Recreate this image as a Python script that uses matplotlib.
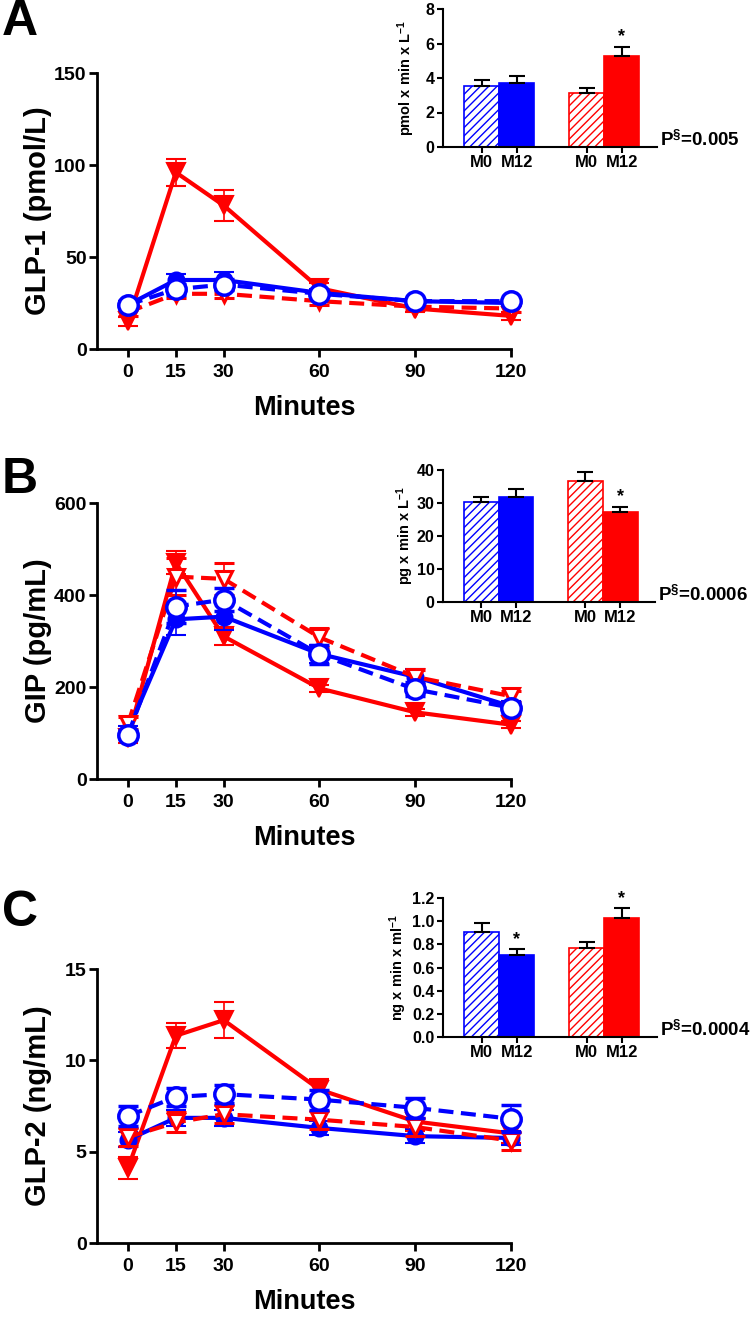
import matplotlib
matplotlib.use("Agg")
import matplotlib.pyplot as plt
import numpy as np

# ---------------- data ----------------
times = [0, 15, 30, 60, 90, 120]

# Panel A: GLP-1 (pmol/L)
a_red_m12 = [15, 96, 78, 33, 22, 18]
a_red_m12_err = [2.5, 7.5, 8.5, 3, 2, 2]
a_red_m0 = [20, 30, 30, 26, 23, 22]
a_red_m0_err = [2, 2.5, 2.5, 2, 2, 2]
a_blue_m12 = [24, 37.5, 37.5, 30.5, 26, 25]
a_blue_m12_err = [2, 3.5, 4.5, 2, 1.5, 1.5]
a_blue_m0 = [24, 32.5, 35, 30, 26, 26]
a_blue_m0_err = [2, 3, 3, 2, 1.5, 1.5]

# Panel B: GIP (pg/mL)
b_red_m12 = [90, 470, 310, 197, 145, 118]
b_red_m12_err = [12, 25, 18, 8, 8, 8]
b_red_m0 = [120, 440, 435, 308, 222, 180]
b_red_m0_err = [15, 40, 35, 20, 15, 12]
b_blue_m12 = [105, 347, 353, 272, 222, 158]
b_blue_m12_err = [10, 35, 30, 20, 18, 12]
b_blue_m0 = [96, 375, 390, 271, 195, 155]
b_blue_m0_err = [10, 35, 25, 20, 15, 12]

# Panel C: GLP-2 (ng/mL)
c_red_m12 = [4.1, 11.35, 12.2, 8.4, 6.65, 6.0]
c_red_m12_err = [0.6, 0.7, 1.0, 0.6, 0.5, 0.5]
c_red_m0 = [5.8, 6.6, 7.05, 6.75, 6.35, 5.6]
c_red_m0_err = [0.5, 0.55, 0.5, 0.5, 0.5, 0.5]
c_blue_m12 = [5.65, 6.85, 6.85, 6.3, 5.85, 5.75]
c_blue_m12_err = [0.4, 0.45, 0.45, 0.4, 0.4, 0.4]
c_blue_m0 = [6.95, 8.0, 8.15, 7.85, 7.4, 6.8]
c_blue_m0_err = [0.55, 0.5, 0.5, 0.55, 0.55, 0.75]

# Insets: AUC
auc_labels = ["M0", "M12", "M0", "M12"]
a_auc = [3.55, 3.73, 3.15, 5.28]
a_auc_err = [0.33, 0.40, 0.29, 0.52]
a_auc_star = [False, False, False, True]
b_auc = [30.4, 31.9, 36.6, 27.4]
b_auc_err = [1.5, 2.4, 2.7, 1.5]
b_auc_star = [False, False, False, True]
c_auc = [0.909, 0.708, 0.766, 1.025]
c_auc_err = [0.078, 0.049, 0.057, 0.086]
c_auc_star = [False, True, False, True]

a_pval = "0.005"
b_pval = "0.0006"
c_pval = "0.0004"

# ---------------- style ----------------
BLUE = "#0000FF"
RED = "#FF0000"
W, H = 756, 1317

plt.rcParams["font.family"] = ["Liberation Sans", "DejaVu Sans"]
plt.rcParams["font.weight"] = "bold"
plt.rcParams["axes.labelweight"] = "bold"
plt.rcParams["mathtext.fontset"] = "custom"
plt.rcParams["mathtext.rm"] = "Liberation Sans:bold"
plt.rcParams["mathtext.bf"] = "Liberation Sans:bold"
plt.rcParams["mathtext.default"] = "bf"
plt.rcParams["hatch.linewidth"] = 1.0

fig = plt.figure(figsize=(W / 100, H / 100), dpi=100)


def fr(x0, x1, ytop, ybot):
    return [x0 / W, 1 - ybot / H, (x1 - x0) / W, (ybot - ytop) / H]


def main_panel(rect, ylim, yticks, ylabel, series, letter, letter_y):
    ax = fig.add_axes(rect)
    for vals, errs, color, ls, marker, mfc, ms, mew, z in series:
        ax.errorbar(times, vals, yerr=errs, color=color, ls=ls, lw=3,
                    marker=marker, mfc=mfc, mec=color, ms=ms, mew=mew,
                    elinewidth=1.2, capsize=7.5, capthick=1.2,
                    zorder=z, clip_on=False,
                    dashes=(3.6, 1.8) if ls == "--" else (None, None))
    ax.set_xlim(-9.7, 120)
    ax.set_ylim(*ylim)
    ax.set_xticks(times)
    ax.set_yticks(yticks)
    for s in ["top", "right"]:
        ax.spines[s].set_visible(False)
    for s in ["left", "bottom"]:
        ax.spines[s].set_linewidth(2.0)
    ax.tick_params(axis="both", width=2.0, length=5.5, labelsize=14)
    ax.tick_params(axis="y", pad=2)
    ax.tick_params(axis="x", pad=5)
    for t in ax.get_xticklabels() + ax.get_yticklabels():
        t.set_fontweight("bold")
    hpx = rect[3] * H
    wpx = rect[2] * W
    ax.text(-59 / wpx, 0.5, ylabel, transform=ax.transAxes, rotation=90,
            ha="center", va="center", fontsize=21, fontweight="bold")
    ax.text(0.5, -59 / hpx, "Minutes", transform=ax.transAxes,
            ha="center", va="center", fontsize=19.5, fontweight="bold")
    fig.text(2 / W, 1 - letter_y / H, letter, ha="left", va="center",
             fontsize=36, fontweight="bold")
    return ax


def inset(rect, vals, errs, stars, ylim, yticks, fmt, ylabel, pval, lab_off):
    ax = fig.add_axes(rect)
    pos = [0, 1, 3, 4]
    colors = [BLUE, BLUE, RED, RED]
    for i, (p, v, c) in enumerate(zip(pos, vals, colors)):
        if i % 2 == 0:
            ax.bar(p, v, width=1.0, facecolor="white", edgecolor=c,
                   hatch="////", lw=1.2, zorder=2)
        else:
            ax.bar(p, v, width=1.0, facecolor=c, edgecolor=c, lw=1.2, zorder=2)
    ax.errorbar(pos, vals, yerr=[[0] * len(vals), errs], fmt="none",
                ecolor="black", elinewidth=1.5, capsize=5.5, capthick=1.5, zorder=3)
    for p, v, e, s in zip(pos, vals, errs, stars):
        if s:
            ax.annotate("*", (p, v + e), xytext=(0, 1), textcoords="offset points",
                        ha="center", va="bottom", fontsize=13, fontweight="bold")
    ax.set_xlim(-1.1, 5.0)
    ax.set_ylim(*ylim)
    ax.set_yticks(yticks)
    ax.set_yticklabels([fmt.format(t) for t in yticks])
    ax.set_xticks(pos)
    ax.set_xticklabels(auc_labels)
    for s in ["top", "right"]:
        ax.spines[s].set_visible(False)
    for s in ["left", "bottom"]:
        ax.spines[s].set_linewidth(1.5)
    ax.tick_params(axis="both", width=1.5, length=4, pad=2)
    ax.tick_params(axis="x", labelsize=12)
    ax.tick_params(axis="y", labelsize=11.5)
    for t in ax.get_xticklabels() + ax.get_yticklabels():
        t.set_fontweight("bold")
    wpx = rect[2] * W
    ax.text(-lab_off / wpx, 0.5, ylabel, transform=ax.transAxes, rotation=90,
            ha="center", va="center", fontsize=10.5, fontweight="bold")
    ax.text(1.015, 0.05, "P$^{§}$=" + pval, transform=ax.transAxes,
            ha="left", va="center", fontsize=13.5, fontweight="bold")
    return ax


# ---------------- panel A ----------------
main_panel(fr(97, 511, 73, 349), (0, 150), [0, 50, 100, 150], "GLP-1 (pmol/L)",
           [(a_red_m12, a_red_m12_err, RED, "-", "v", RED, 13, 1.5, 3),
            (a_blue_m12, a_blue_m12_err, BLUE, "-", "o", BLUE, 11.5, 1.5, 4),
            (a_red_m0, a_red_m0_err, RED, "--", "v", "white", 12, 2.2, 5),
            (a_blue_m0, a_blue_m0_err, BLUE, "--", "o", "white", 14, 2.5, 6)],
           "A", 22)
inset(fr(443, 657, 9, 147), a_auc, a_auc_err, a_auc_star, (0, 8), [0, 2, 4, 6, 8],
      "{:g}", "pmol x min x L$^{-1}$", a_pval, 37)

# ---------------- panel B ----------------
main_panel(fr(97, 511, 503, 779), (0, 600), [0, 200, 400, 600], "GIP (pg/mL)",
           [(b_red_m12, b_red_m12_err, RED, "-", "v", RED, 13, 1.5, 3),
            (b_blue_m12, b_blue_m12_err, BLUE, "-", "o", BLUE, 11.5, 1.5, 4),
            (b_red_m0, b_red_m0_err, RED, "--", "v", "white", 12, 2.2, 5),
            (b_blue_m0, b_blue_m0_err, BLUE, "--", "o", "white", 14, 2.5, 6)],
           "B", 480)
inset(fr(443, 655, 470, 602), b_auc, b_auc_err, b_auc_star, (0, 40), [0, 10, 20, 30, 40],
      "{:g}", "pg x min x L$^{-1}$", b_pval, 38)

# ---------------- panel C ----------------
main_panel(fr(97, 511, 969, 1243), (0, 15), [0, 5, 10, 15], "GLP-2 (ng/mL)",
           [(c_red_m12, c_red_m12_err, RED, "-", "v", RED, 13, 1.5, 3),
            (c_blue_m12, c_blue_m12_err, BLUE, "-", "o", BLUE, 11.5, 1.5, 4),
            (c_red_m0, c_red_m0_err, RED, "--", "v", "white", 12, 2.2, 5),
            (c_blue_m0, c_blue_m0_err, BLUE, "--", "o", "white", 14, 2.5, 6)],
           "C", 913)
inset(fr(443, 657, 898, 1037), c_auc, c_auc_err, c_auc_star, (0, 1.2),
      [0.0, 0.2, 0.4, 0.6, 0.8, 1.0, 1.2], "{:.1f}", "ng x min x ml$^{-1}$", c_pval, 45)

fig.savefig("out.png", dpi=100)
